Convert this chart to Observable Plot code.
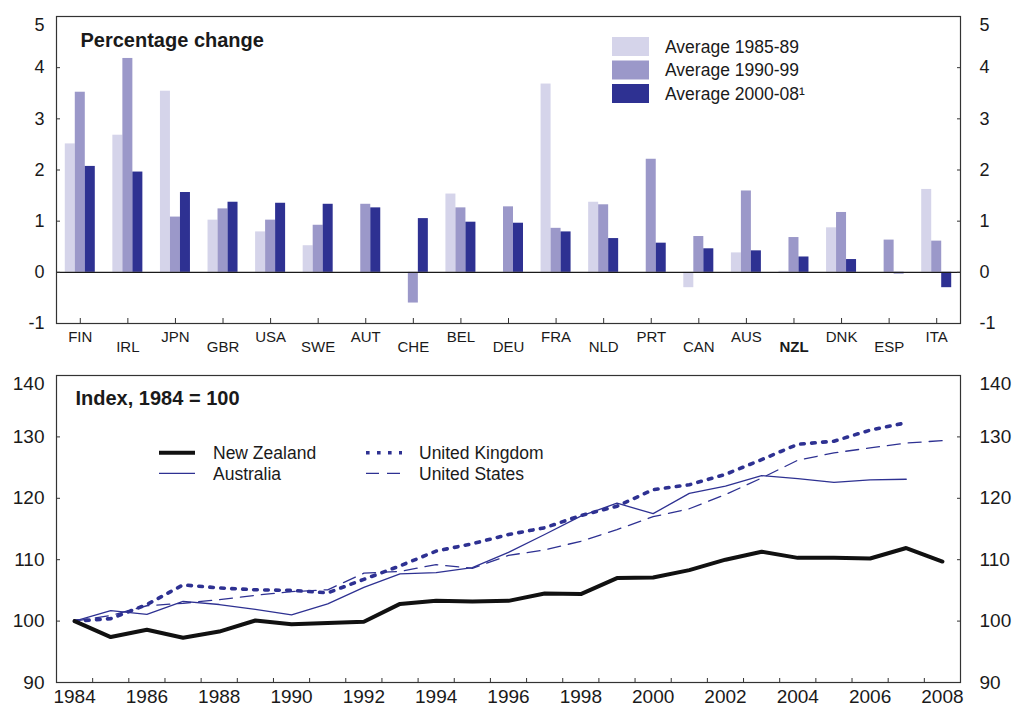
<!DOCTYPE html>
<html>
<head>
<meta charset="utf-8">
<script src="https://cdn.jsdelivr.net/npm/d3@7"></script>
<script src="https://cdn.jsdelivr.net/npm/@observablehq/plot@0.6"></script>
<style>
  html, body { margin: 0; padding: 0; background: #fff; }
  #wrap { width: 1012px; height: 706px; overflow: hidden; }
  #wrap svg { display: block; }
</style>
</head>
<body>
<div id="wrap"></div>
<script>
// ---------- Top panel data: percentage change ----------
const countries = ["FIN","IRL","JPN","GBR","USA","SWE","AUT","CHE","BEL","DEU","FRA","NLD","PRT","CAN","AUS","NZL","DNK","ESP","ITA"];
const avg1985_89 = [2.51, 2.68, 3.54, 1.02, 0.79, 0.52, 0, 0, 1.53, 0, 3.68, 1.37, 0, -0.30, 0.38, 0.02, 0.87, 0, 1.62];
const avg1990_99 = [3.52, 4.18, 1.08, 1.24, 1.02, 0.92, 1.33, -0.60, 1.26, 1.28, 0.86, 1.32, 2.21, 0.70, 1.59, 0.68, 1.17, 0.63, 0.61];
const avg2000_08 = [2.07, 1.96, 1.56, 1.37, 1.35, 1.33, 1.26, 1.05, 0.98, 0.96, 0.79, 0.66, 0.57, 0.46, 0.42, 0.30, 0.25, -0.03, -0.30];
const barSeries = ["Average 1985-89", "Average 1990-99", "Average 2000-08\u00B9"];
const barTickValues = [-1, 0, 1, 2, 3, 4, 5];
const boldCountry = "NZL";

// ---------- Bottom panel data: index, 1984 = 100 ----------
const years = [1984,1985,1986,1987,1988,1989,1990,1991,1992,1993,1994,1995,1996,1997,1998,1999,2000,2001,2002,2003,2004,2005,2006,2007,2008];
const newZealand    = [100, 97.4, 98.6, 97.3, 98.3, 100.1, 99.5, 99.7, 99.9, 102.8, 103.3, 103.2, 103.3, 104.5, 104.4, 107.0, 107.1, 108.3, 110.0, 111.3, 110.3, 110.3, 110.2, 111.9, 109.7];
const australia     = [100, 101.7, 101.1, 103.2, 102.7, 101.9, 101.0, 102.8, 105.5, 107.7, 107.9, 108.7, 111.2, 114.1, 117.1, 119.2, 117.5, 120.8, 122.0, 123.7, 123.2, 122.6, 123.0, 123.1, null];
const unitedKingdom = [100, 100.4, 102.7, 105.9, 105.4, 105.1, 105.0, 104.6, 106.8, 109.0, 111.4, 112.6, 114.1, 115.2, 117.2, 118.7, 121.4, 122.2, 123.9, 126.3, 128.8, 129.3, 131.1, 132.3, null];
const unitedStates  = [100, 100.9, 102.5, 102.9, 103.5, 104.2, 104.8, 105.1, 107.8, 108.1, 109.2, 108.6, 110.7, 111.6, 113.0, 114.9, 117.0, 118.3, 120.6, 123.3, 126.2, 127.4, 128.2, 129.0, 129.4];
const lineSeries = ["New Zealand", "Australia", "United Kingdom", "United States"];
const indexTickValues = [90, 100, 110, 120, 130, 140];
const yearLabelValues = [1984,1986,1988,1990,1992,1994,1996,1998,2000,2002,2004,2006,2008];

// ---------- Styles ----------
const FONT = '"Liberation Sans", Arial, Helvetica, sans-serif';
const INK = "#1a1a1a";
const BLUE = "#2e3192";
const barColors = ["#d5d4ea", "#9b98c9", "#2e3192"];
const W = 1012, ML = 56, MR = 52;
const fmt = d => String(d);
const blank = () => "";

const barData = countries.map((c, i) => ({country: c, s0: avg1985_89[i], s1: avg1990_99[i], s2: avg2000_08[i]}));
const lineData = years.map((y, i) => ({year: y, nz: newZealand[i], au: australia[i], uk: unitedKingdom[i], us: unitedStates[i]}));

// ---------- Top chart ----------
const bandW = (W - ML - MR) / countries.length;
const barW = 10;
const inset = (bandW - barW) / 2;
const evenC = countries.filter((c, i) => i % 2 === 0 && c !== boldCountry);
const oddC = countries.filter((c, i) => i % 2 === 1 && c !== boldCountry);
const boldIdx = countries.indexOf(boldCountry);

const topPlot = Plot.plot({
  width: W, height: 360,
  marginTop: 16, marginBottom: 37, marginLeft: ML, marginRight: MR,
  style: {fontFamily: FONT, fontSize: "18px", color: INK, background: "white"},
  x: {type: "band", domain: countries, padding: 0, round: false, axis: null},
  y: {domain: [-1, 5], axis: null},
  marks: [
    Plot.barY(barData, {x: "country", y: "s0", fill: barColors[0], dx: -barW, insetLeft: inset, insetRight: inset}),
    Plot.barY(barData, {x: "country", y: "s1", fill: barColors[1], dx: 0, insetLeft: inset, insetRight: inset}),
    Plot.barY(barData, {x: "country", y: "s2", fill: barColors[2], dx: barW, insetLeft: inset, insetRight: inset}),
    Plot.ruleY([0], {stroke: INK, strokeWidth: 1.2}),
    Plot.frame({stroke: "#333", strokeWidth: 1.2}),
    // inward tick marks
    Plot.axisY({anchor: "left", ticks: barTickValues.slice(1, -1), tickSize: -4, tickFormat: blank, label: null, stroke: "#333"}),
    Plot.axisY({anchor: "right", ticks: barTickValues.slice(1, -1), tickSize: -4, tickFormat: blank, label: null, stroke: "#333"}),
    Plot.axisX({anchor: "bottom", ticks: countries, tickSize: -5, tickFormat: blank, label: null, stroke: "#333"}),
    // tick labels
    Plot.axisY({anchor: "left", ticks: barTickValues.slice(0, -1), tickSize: 0, tickPadding: 12, fontSize: 18, tickFormat: fmt, label: null}),
    Plot.axisY({anchor: "left", ticks: barTickValues.slice(-1), tickSize: 0, tickPadding: 12, fontSize: 18, dy: 9, tickFormat: fmt, label: null}),
    Plot.axisY({anchor: "right", ticks: barTickValues.slice(0, -1), tickSize: 0, tickPadding: 19, fontSize: 18, tickFormat: fmt, label: null}),
    Plot.axisY({anchor: "right", ticks: barTickValues.slice(-1), tickSize: 0, tickPadding: 19, fontSize: 18, dy: 9, tickFormat: fmt, label: null}),
    Plot.axisX({anchor: "bottom", ticks: evenC, tickSize: 0, tickPadding: 8, fontSize: 15, label: null}),
    Plot.axisX({anchor: "bottom", ticks: oddC, tickSize: 0, tickPadding: 8, fontSize: 15, dy: 10, label: null}),
    Plot.axisX({anchor: "bottom", ticks: [boldCountry], tickSize: 0, tickPadding: 8, fontSize: 15, fontWeight: "bold", dy: boldIdx % 2 ? 10 : 0, label: null}),
    Plot.text(["Percentage change"], {frameAnchor: "top-left", dx: 24, dy: 30, lineAnchor: "bottom", textAnchor: "start", fontSize: 20, fontWeight: "bold", fill: INK})
  ]
});

// ---------- Bottom chart ----------
const halfYearTicks = years.slice(0, -1).map(y => y + 0.5);
const bottomPlot = Plot.plot({
  width: W, height: 346,
  marginTop: 15, marginBottom: 24, marginLeft: ML, marginRight: MR,
  style: {fontFamily: FONT, fontSize: "18px", color: INK, background: "white"},
  x: {domain: [1983.5, 2008.5], axis: null},
  y: {domain: [90, 140], axis: null},
  marks: [
    Plot.frame({stroke: "#333", strokeWidth: 1.2}),
    Plot.line(lineData, {x: "year", y: "us", stroke: BLUE, strokeWidth: 1.3, strokeDasharray: "13,8"}),
    Plot.line(lineData, {x: "year", y: "au", stroke: BLUE, strokeWidth: 1.3}),
    Plot.line(lineData, {x: "year", y: "uk", stroke: BLUE, strokeWidth: 3.6, strokeDasharray: "3.6,7.4"}),
    Plot.line(lineData, {x: "year", y: "nz", stroke: "#111", strokeWidth: 4, strokeLinejoin: "miter"}),
    Plot.axisY({anchor: "left", ticks: indexTickValues.slice(1, -1), tickSize: -4, tickFormat: blank, label: null, stroke: "#333"}),
    Plot.axisY({anchor: "right", ticks: indexTickValues.slice(1, -1), tickSize: -4, tickFormat: blank, label: null, stroke: "#333"}),
    Plot.axisX({anchor: "bottom", ticks: halfYearTicks, tickSize: -4, tickFormat: blank, label: null, stroke: "#333"}),
    Plot.axisY({anchor: "left", ticks: indexTickValues.slice(0, -1), tickSize: 0, tickPadding: 12, fontSize: 19, tickFormat: fmt, label: null}),
    Plot.axisY({anchor: "left", ticks: indexTickValues.slice(-1), tickSize: 0, tickPadding: 12, fontSize: 19, dy: 8, tickFormat: fmt, label: null}),
    Plot.axisY({anchor: "right", ticks: indexTickValues.slice(0, -1), tickSize: 0, tickPadding: 19, fontSize: 19, tickFormat: fmt, label: null}),
    Plot.axisY({anchor: "right", ticks: indexTickValues.slice(-1), tickSize: 0, tickPadding: 19, fontSize: 19, dy: 8, tickFormat: fmt, label: null}),
    Plot.axisX({anchor: "bottom", ticks: yearLabelValues, tickSize: 0, tickPadding: 7, fontSize: 19, tickFormat: fmt, label: null}),
    Plot.text(["Index, 1984 = 100"], {frameAnchor: "top-left", dx: 19, dy: 29, lineAnchor: "bottom", textAnchor: "start", fontSize: 20, fontWeight: "bold", fill: INK})
  ]
});

// ---------- Legends (drawn inside each SVG) ----------
function addTopLegend(svg) {
  const g = d3.select(svg).append("g").attr("font-family", FONT).attr("font-size", 17.5)
    .attr("fill", INK).attr("text-anchor", "start");
  const rowsY = [46.5, 70, 93.5];
  barSeries.forEach((name, i) => {
    g.append("rect").attr("x", 612).attr("y", rowsY[i] - 9.5).attr("width", 37).attr("height", 19).attr("fill", barColors[i]);
    g.append("text").attr("x", 665).attr("y", rowsY[i]).attr("dy", "0.36em").text(name);
  });
}
function addBottomLegend(svg) {
  const g = d3.select(svg).append("g").attr("font-family", FONT).attr("font-size", 17.5)
    .attr("fill", INK).attr("text-anchor", "start");
  const specs = [
    {x: 159, tx: 213, y: 92.7, stroke: "#111", w: 4, dash: null},
    {x: 159, tx: 213, y: 113.3, stroke: BLUE, w: 1.3, dash: null},
    {x: 366, tx: 419, y: 92.7, stroke: BLUE, w: 3.6, dash: "3.6,7.4"},
    {x: 366, tx: 419, y: 113.3, stroke: BLUE, w: 1.3, dash: "13,8"}
  ];
  lineSeries.forEach((name, i) => {
    const s = specs[i];
    const l = g.append("line").attr("x1", s.x).attr("x2", s.x + 36).attr("y1", s.y).attr("y2", s.y)
      .attr("stroke", s.stroke).attr("stroke-width", s.w);
    if (s.dash) l.attr("stroke-dasharray", s.dash);
    g.append("text").attr("x", s.tx).attr("y", s.y).attr("dy", "0.36em").text(name);
  });
}
addTopLegend(topPlot);
addBottomLegend(bottomPlot);

const wrap = document.getElementById("wrap");
wrap.appendChild(topPlot);
wrap.appendChild(bottomPlot);
</script>
</body>
</html>
